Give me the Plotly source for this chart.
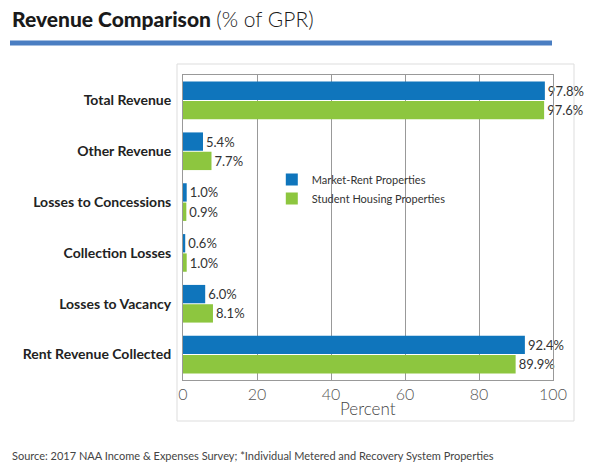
import plotly.graph_objects as go

categories = ["Total Revenue", "Other Revenue", "Losses to Concessions",
              "Collection Losses", "Losses to Vacancy", "Rent Revenue Collected"]
market_rent = [97.8, 5.4, 1.0, 0.6, 6.0, 92.4]
student_housing = [97.6, 7.7, 0.9, 1.0, 8.1, 89.9]
x_ticks = [0, 20, 40, 60, 80, 100]

BLUE = "#0F75BC"
GREEN = "#8DC63F"

fig = go.Figure()
fig.add_trace(go.Bar(
    y=categories, x=market_rent, orientation="h", name="Market-Rent Properties",
    marker=dict(color=BLUE, line=dict(width=0)),
    text=[f"{v:.1f}%" for v in market_rent], textposition="outside",
    textfont=dict(family="Lato", size=13, color="#333333"), cliponaxis=False,
))
fig.add_trace(go.Bar(
    y=categories, x=student_housing, orientation="h", name="Student Housing Properties",
    marker=dict(color=GREEN, line=dict(width=0)),
    text=[f"{v:.1f}%" for v in student_housing], textposition="outside",
    textfont=dict(family="Lato", size=13, color="#333333"), cliponaxis=False,
))

fig.update_layout(
    width=600, height=466,
    margin=dict(l=183, r=47, t=75, b=86),
    paper_bgcolor="white", plot_bgcolor="white",
    barmode="group", bargap=0.24, bargroupgap=0.05,
    uniformtext=dict(minsize=13, mode="show"),
    showlegend=True,
    legend=dict(x=0.24, y=0.705, xanchor="left", yanchor="top",
                bgcolor="rgba(0,0,0,0)", font=dict(family="Lato", size=11, color="#333333"),
                traceorder="normal", itemwidth=30),
    xaxis=dict(range=[0, 100], tickvals=x_ticks, showgrid=True, gridcolor="#999999", gridwidth=1,
               showline=True, linecolor="#999999", linewidth=1, mirror=True,
               ticks="", zeroline=False,
               tickfont=dict(family="Lato", size=16, color="#555555", weight=300)),
    yaxis=dict(autorange="reversed", showline=True, linecolor="#999999", linewidth=1,
               mirror=True, ticks="", ticklabelstandoff=8,
               tickfont=dict(family="Lato", size=14, color="#222222", weight="bold")),
    shapes=[
        dict(type="line", xref="paper", yref="paper",
             x0=(10-183)/370, x1=(552-183)/370, y0=(380-43)/305, y1=(380-43)/305,
             line=dict(color="#4A7EC2", width=5)),
        dict(type="rect", xref="paper", yref="paper",
             x0=(177-183)/370, x1=(574-183)/370, y0=(380-421)/305, y1=(380-64)/305,
             line=dict(color="#DDDDDD", width=1), fillcolor="rgba(0,0,0,0)", layer="below"),
    ],
    annotations=[
        dict(xref="paper", yref="paper", x=(10-183)/370, y=(380-18)/305,
             xanchor="left", yanchor="middle", showarrow=False,
             text="<span style='font-weight:900'>Revenue Comparison</span> <span style='font-weight:300'>(% of GPR)</span>",
             font=dict(family="Lato", size=21, color="#1a1a1a")),
        dict(xref="paper", yref="paper", x=0.5, y=(380-408)/305,
             xanchor="center", yanchor="middle", showarrow=False,
             text="<span style='font-weight:300'>Percent</span>",
             font=dict(family="Lato", size=17, color="#444444")),
        dict(xref="paper", yref="paper", x=(10-183)/370, y=(380-455)/305,
             xanchor="left", yanchor="middle", showarrow=False,
             text="Source: 2017 NAA Income & Expenses Survey; *Individual Metered and Recovery System Properties",
             font=dict(family="Lato", size=11, color="#444444")),
    ],
)

fig.write_html("out.html", config={"displayModeBar": False},
               post_script="document.body.style.margin='0';document.body.style.overflow='hidden';")
